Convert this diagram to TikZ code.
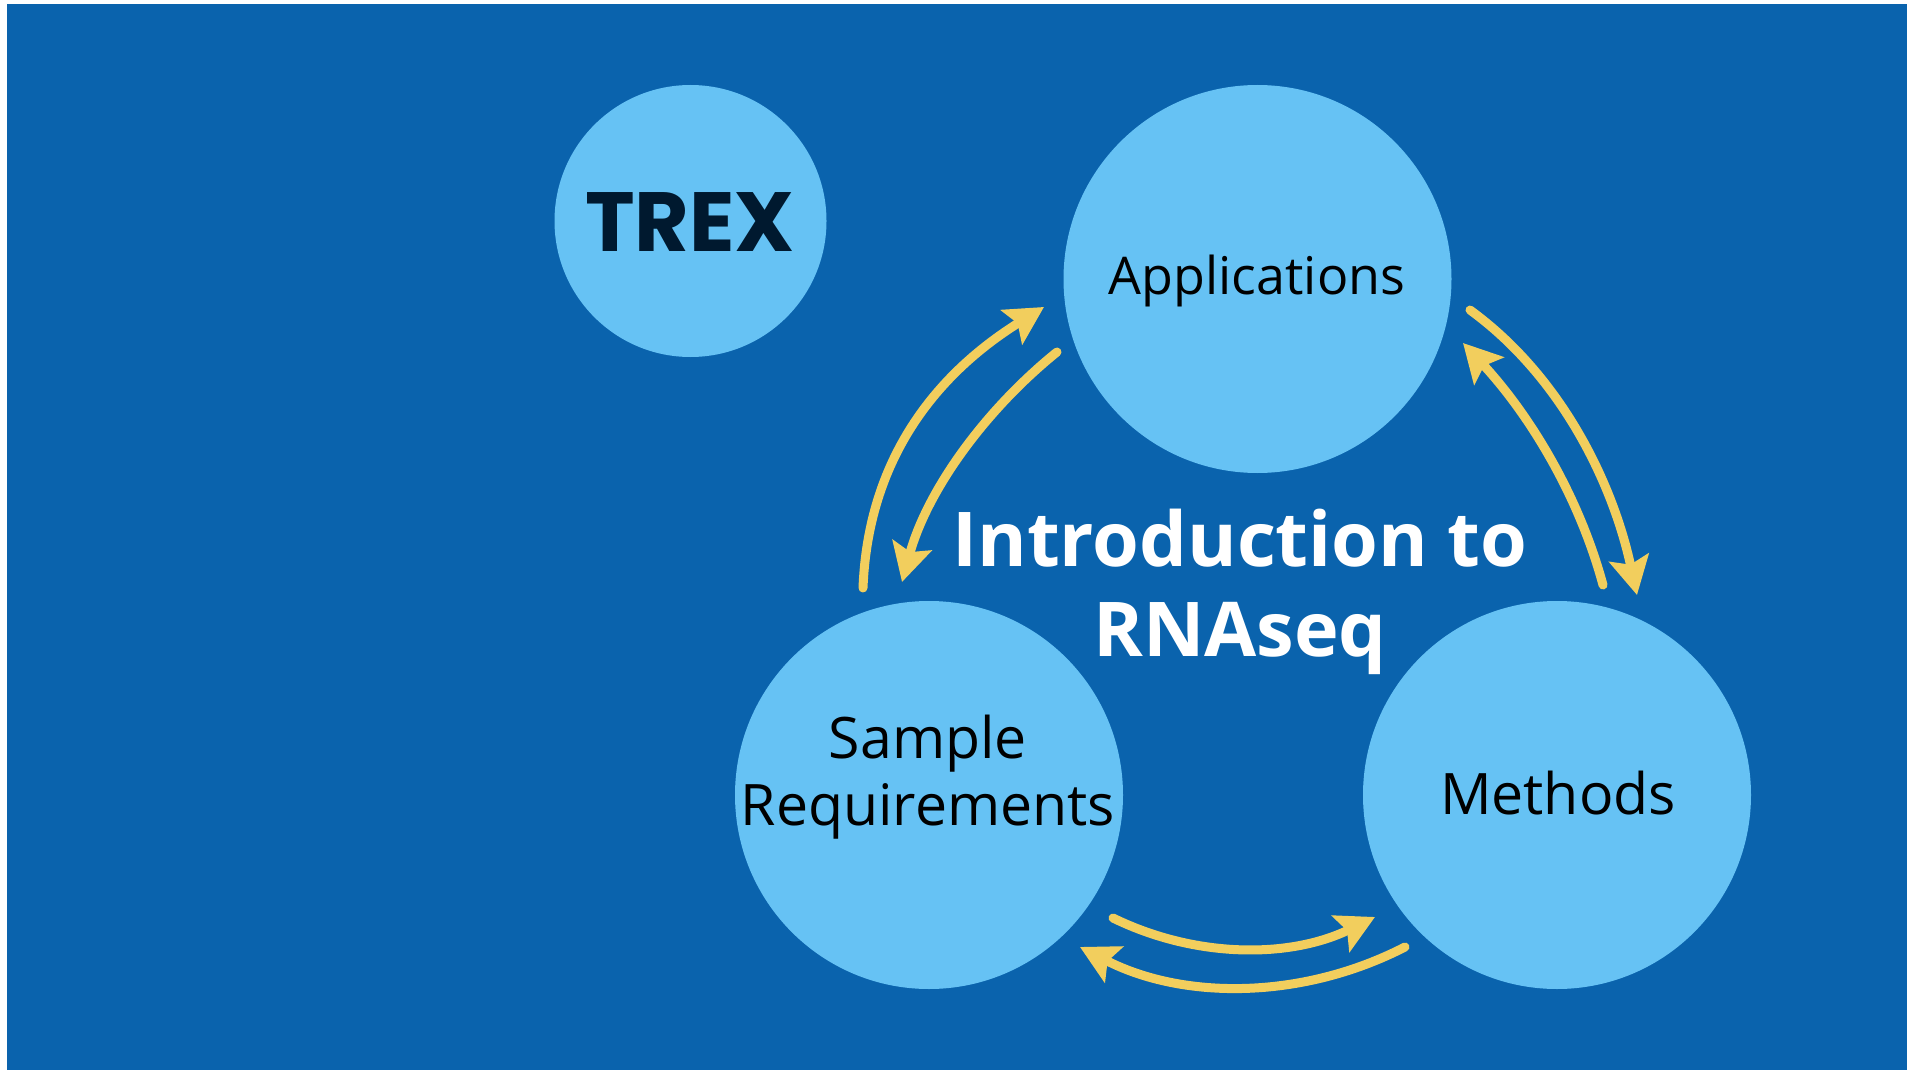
\documentclass[tikz,border=0pt]{standalone}
\usepackage{fontspec}
\setmainfont{Open Sans}
\newfontfamily\trexfont{Poppins}
\usetikzlibrary{arrows.meta}
\definecolor{bgblue}{HTML}{0A63AD}
\definecolor{lightblue}{HTML}{66C2F4}
\definecolor{arrowyellow}{HTML}{F2CE5D}
\definecolor{navy}{HTML}{00192F}
\tikzset{
  bubble/.style={circle, fill=lightblue, inner sep=0pt, minimum size=194pt},
  lbl/.style={anchor=base, inner sep=0pt, text=black, font=\fontsize{26}{30}\selectfont},
  biglbl/.style={lbl, font=\fontsize{28.6}{32}\selectfont},
  ttl/.style={anchor=base, inner sep=0pt, text=white, font=\bfseries\fontsize{37.8}{44}\selectfont},
  arr/.style={draw=arrowyellow, line width=4.5pt, line cap=round,
    -{Stealth[length=19pt, width=20pt, inset=3.5pt]}}
}
\begin{document}
\begin{tikzpicture}[x=0.5pt,y=-0.5pt]
\useasboundingbox (0,0) rectangle (1913,1070);
\fill[white] (0,0) rectangle (1913,1070);
\fill[bgblue] (7,4) rectangle (1907,1070);

\node[circle, fill=lightblue, inner sep=0pt, minimum size=136pt] (trex) at (690.5,221) {};
\node[anchor=base, inner sep=0pt, text=navy, font=\trexfont\bfseries\fontsize{42}{46}\selectfont] (trexlbl) at (690,251) {TREX};

\node[bubble] (app) at (1257.5,279) {};
\node[bubble] (sam) at (929,795) {};
\node[bubble] (met) at (1557,795) {};

\node[lbl] (applbl) at (1257,294) {Applications};
\node[biglbl] (samlblA) at (928,758) {Sample};
\node[biglbl] (samlblB) at (928,825) {Requirements};
\node[biglbl] (metlbl) at (1558,814) {Methods};

\node[ttl] (title1) at (1240,566) {Introduction to};
\node[ttl] (title2) at (1240,656) {RNAseq};

% arrow end points
\coordinate (a1) at (863,588);  \coordinate (a2) at (1044,307);
\coordinate (b1) at (1057,352); \coordinate (b2) at (902,582);
\coordinate (c1) at (1470,310); \coordinate (c2) at (1637,595);
\coordinate (d1) at (1603,585); \coordinate (d2) at (1463,343);
\coordinate (e1) at (1113,918); \coordinate (e2) at (1375,917);
\coordinate (f1) at (1405,947); \coordinate (f2) at (1080,947);

\draw[arr] (a1) .. controls (868,460) and (935,375) .. (a2);
\draw[arr] (b1) .. controls (984,411) and (927,491) .. (b2);
\draw[arr] (c1) .. controls (1562,377) and (1613,484) .. (c2);
\draw[arr] (d1) .. controls (1578,493) and (1528,413) .. (d2);
\draw[arr] (e1) .. controls (1197,959) and (1291,958) .. (e2);
\draw[arr] (f1) .. controls (1302,1000) and (1183,1000) .. (f2);
\end{tikzpicture}
\end{document}
